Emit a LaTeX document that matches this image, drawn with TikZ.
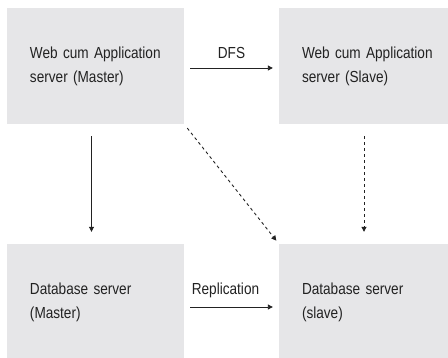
\documentclass[tikz,border=0pt]{standalone}
\usepackage{fontspec}
\setmainfont{Liberation Sans}[FakeStretch=0.85]
\usetikzlibrary{arrows.meta, positioning}
\definecolor{boxgrey}{HTML}{E6E6E8}
\definecolor{inkgrey}{HTML}{222222}
\hyphenpenalty=10000

\begin{document}
\begin{tikzpicture}[x=1pt,y=-1pt,>={Triangle[length=5pt,width=5pt]},
	srvbox/.style={fill=boxgrey, minimum height=116pt, text width=131pt, inner xsep=23pt, inner ysep=0pt, align=left, text=inkgrey, font=\fontsize{16}{24}\selectfont},
	link/.style={->, draw=inkgrey, line width=0.9pt},
	lbl/.style={text=inkgrey, font=\fontsize{16}{20}\selectfont}]
	
	\useasboundingbox (0,0) rectangle (448,358);
	
	\node (webm) [srvbox] at (95.5,66) {Web cum Application\\server (Master)};
	\node (webs) [srvbox] at (367.5,66) {Web cum Application\\server (Slave)};
	\node (dbm) [srvbox] at (95.5,302) {Database server\\(Master)};
	\node (dbs) [srvbox] at (367.5,302) {Database server\\(slave)};
	
	\draw [link, shorten <=6pt, shorten >=6pt] ([yshift=-2pt]webm.east) -- node [lbl, above=6pt] {DFS} ([yshift=-2pt]webs.west);
	\draw [link, shorten <=6pt, shorten >=6pt] ([yshift=-5pt]dbm.east) -- node [lbl, above=5pt, xshift=-6pt] {Replication} ([yshift=-5pt]dbs.west);
	\draw [link, shorten <=12pt, shorten >=12pt] ([xshift=-4pt]webm.south) -- ([xshift=-4pt]dbm.north);
	\draw [link, dashed, shorten <=12pt, shorten >=12pt] ([xshift=-3.5pt]webs.south) -- ([xshift=-3.5pt]dbs.north);
	\draw [link, dashed, shorten <=5pt, shorten >=4pt] (webm.south east) -- (dbs.north west);
	
\end{tikzpicture}
\end{document}
